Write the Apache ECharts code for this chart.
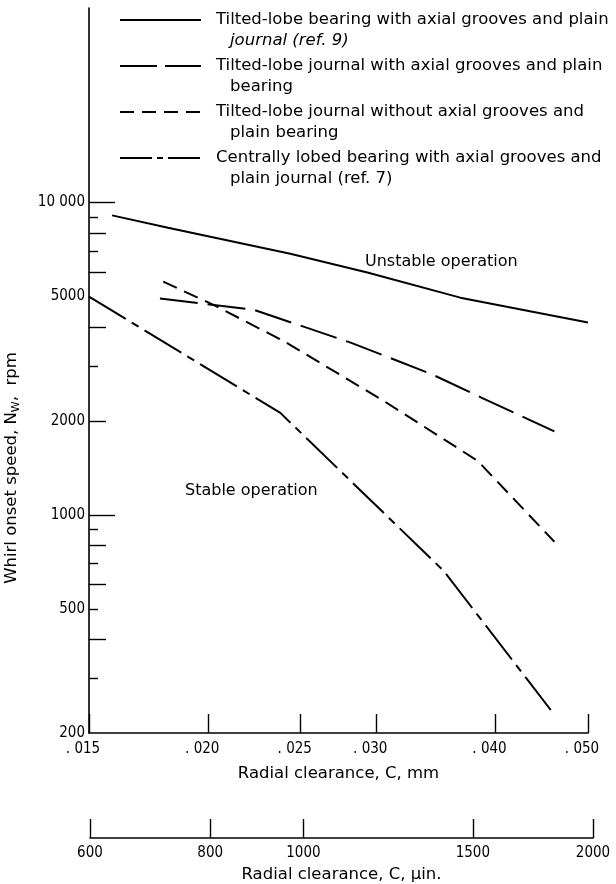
<!DOCTYPE html>
<html><head><meta charset="utf-8">
<script src="https://cdn.jsdelivr.net/npm/echarts@6/dist/echarts.min.js"></script>
<style>html,body{margin:0;padding:0;background:#fff}#c{width:616px;height:884px}</style>
</head><body><div id="c"></div>
<script>
// ---- data ----
const legendLines = [
  ['Tilted-lobe bearing with axial grooves and plain', 'journal (ref. 9)'],
  ['Tilted-lobe journal with axial grooves and plain', 'bearing'],
  ['Tilted-lobe journal without axial grooves and', 'plain bearing'],
  ['Centrally lobed bearing with axial grooves and', 'plain journal (ref. 7)']
];
// clearance, mm
const bearingGroovesX = [0.01586, 0.01815, 0.02438, 0.02936, 0.03674, 0.0500];
const bearingGroovesY = [9100, 8310, 6860, 5970, 4960, 4130];
const journalGroovesX = [0.0178, 0.0223, 0.0282, 0.0342, 0.0387, 0.0461];
const journalGroovesY = [4930, 4540, 3560, 2830, 2370, 1850];
const journalNoGroovesX = [0.01794, 0.02023, 0.02396, 0.03052, 0.0383, 0.0461];
const journalNoGroovesY = [5580, 4710, 3610, 2320, 1490, 820];
const centralLobedX = [0.0150, 0.0238, 0.0353, 0.0457];
const centralLobedY = [5000, 2120, 661, 237];

const mmTicks = [0.015, 0.020, 0.025, 0.030, 0.040, 0.050];
const uinTicks = [600, 800, 1000, 1500, 2000];
const yLabelTicks = [200, 500, 1000, 2000, 5000, 10000];
const yLongTicks = [1000, 10000];
const yMidTicks = [400, 600, 800, 2000, 4000, 6000, 8000];
const yShortTicks = [300, 500, 700, 900, 3000, 7000, 9000];

const FONT_C = "'DejaVu Sans Condensed', 'DejaVu Sans', sans-serif";
const FONT = "'DejaVu Sans', sans-serif";
const pair = (xs, ys) => xs.map((x, i) => [x, ys[i]]);

const chart = echarts.init(document.getElementById('c'), null, {renderer: 'canvas'});

const yBase = {
  type: 'log', gridIndex: 0, min: 200, max: 42000, position: 'left',
  splitLine: {show: false}, minorTick: {show: false},
  axisLine: {show: true, lineStyle: {color: '#000', width: 1.6}},
};
const option = {
  animation: false,
  backgroundColor: '#fff',
  grid: [
    {left: 89, top: 8, width: 499, height: 725},
    {left: 90, top: 837, width: 503, height: 1}
  ],
  xAxis: [
    {type: 'log', gridIndex: 0, min: 0.015, max: 0.05,
     axisLine: {onZero: false, lineStyle: {color: '#000', width: 1.6}},
     splitLine: {show: false}, minorTick: {show: false},
     axisTick: {inside: true, length: 19, customValues: mmTicks, lineStyle: {color: '#000', width: 1.4}},
     axisLabel: {customValues: mmTicks, color: '#000', fontSize: 15, fontFamily: FONT_C, margin: 9,
       padding: [0, 12, 0, 0],
       formatter: v => '. ' + Number(v).toFixed(3).slice(2)},
     name: 'Radial clearance, C, mm', nameLocation: 'middle', nameGap: 32,
     nameTextStyle: {color: '#000', fontSize: 16.5, fontFamily: FONT}},
    {type: 'log', gridIndex: 1, min: 600, max: 2000,
     axisLine: {onZero: false, lineStyle: {color: '#000', width: 1.6}},
     splitLine: {show: false}, minorTick: {show: false},
     axisTick: {inside: true, length: 19, customValues: uinTicks, lineStyle: {color: '#000', width: 1.4}},
     axisLabel: {customValues: uinTicks, color: '#000', fontSize: 15, fontFamily: FONT_C, margin: 8,
       formatter: v => String(v)},
     name: 'Radial clearance, C, µin.', nameLocation: 'middle', nameGap: 28,
     nameTextStyle: {color: '#000', fontSize: 16.5, fontFamily: FONT}}
  ],
  yAxis: [
    Object.assign({}, yBase, {
      axisTick: {inside: true, length: 26, customValues: yLongTicks, lineStyle: {color: '#000', width: 1.4}},
      axisLabel: {customValues: yLabelTicks, color: '#000', fontSize: 15, fontFamily: FONT_C, margin: 4,
        formatter: v => (v >= 10000 ? '10 000' : String(v))}
    }),
    Object.assign({}, yBase, {
      axisLine: {show: false},
      axisTick: {inside: true, length: 17, customValues: yMidTicks, lineStyle: {color: '#000', width: 1.4}},
      axisLabel: {show: false}
    }),
    Object.assign({}, yBase, {
      axisLine: {show: false},
      axisTick: {inside: true, length: 9, customValues: yShortTicks, lineStyle: {color: '#000', width: 1.4}},
      axisLabel: {show: false}
    }),
    {type: 'value', gridIndex: 1, show: false}
  ],
  series: [
    {name: legendLines[0].join(' '), type: 'line', xAxisIndex: 0, yAxisIndex: 0, symbol: 'none',
     data: pair(bearingGroovesX, bearingGroovesY), lineStyle: {color: '#000', width: 2, type: 'solid'}},
    {name: legendLines[1].join(' '), type: 'line', xAxisIndex: 0, yAxisIndex: 0, symbol: 'none',
     data: pair(journalGroovesX, journalGroovesY), lineStyle: {color: '#000', width: 2, type: [38, 10]}},
    {name: legendLines[2].join(' '), type: 'line', xAxisIndex: 0, yAxisIndex: 0, symbol: 'none',
     data: pair(journalNoGroovesX, journalNoGroovesY), lineStyle: {color: '#000', width: 2, type: [15, 8]}},
    {name: legendLines[3].join(' '), type: 'line', xAxisIndex: 0, yAxisIndex: 0, symbol: 'none',
     data: pair(centralLobedX, centralLobedY), lineStyle: {color: '#000', width: 2, type: [43, 7, 8, 7]}}
  ],
  graphic: []
};

// legend drawn as graphic
const legendRowY = [20, 66, 112, 158];
const legendDash = [null, [37, 8], [14, 8], [32, 5, 6, 5]];
legendLines.forEach((lines, i) => {
  const y = legendRowY[i];
  option.graphic.push({type: 'line', shape: {x1: 120, y1: y, x2: 201, y2: y},
    style: {stroke: '#000', lineWidth: 2, lineDash: legendDash[i]}});
  option.graphic.push({type: 'text', x: 216, y: y, style: {text: lines[0], fill: '#000',
    font: '16.5px ' + FONT, textVerticalAlign: 'middle'}});
  option.graphic.push({type: 'text', x: 230, y: y + 21, style: {text: lines[1], fill: '#000',
    font: (i === 0 ? 'italic ' : '') + '16.5px ' + FONT, textVerticalAlign: 'middle'}});
});
option.graphic.push({type: 'text', x: 365, y: 262, style: {text: 'Unstable operation', fill: '#000',
  font: '16px ' + FONT, textVerticalAlign: 'middle'}});
option.graphic.push({type: 'text', x: 185, y: 491, style: {text: 'Stable operation', fill: '#000',
  font: '16px ' + FONT, textVerticalAlign: 'middle'}});
option.graphic.push({type: 'text', x: 12, y: 468, rotation: Math.PI / 2,
  style: {rich: {n: {fontSize: 16.5, fontFamily: FONT, fill: '#000'}, s: {fontSize: 11, fontFamily: FONT, fill: '#000', verticalAlign: 'bottom', padding: [9, 0, 0, 0]}},
    text: '{n|Whirl onset speed, N}{s|W}{n|,  rpm}', align: 'center', verticalAlign: 'middle'}});

chart.setOption(option);
</script>
</body></html>
